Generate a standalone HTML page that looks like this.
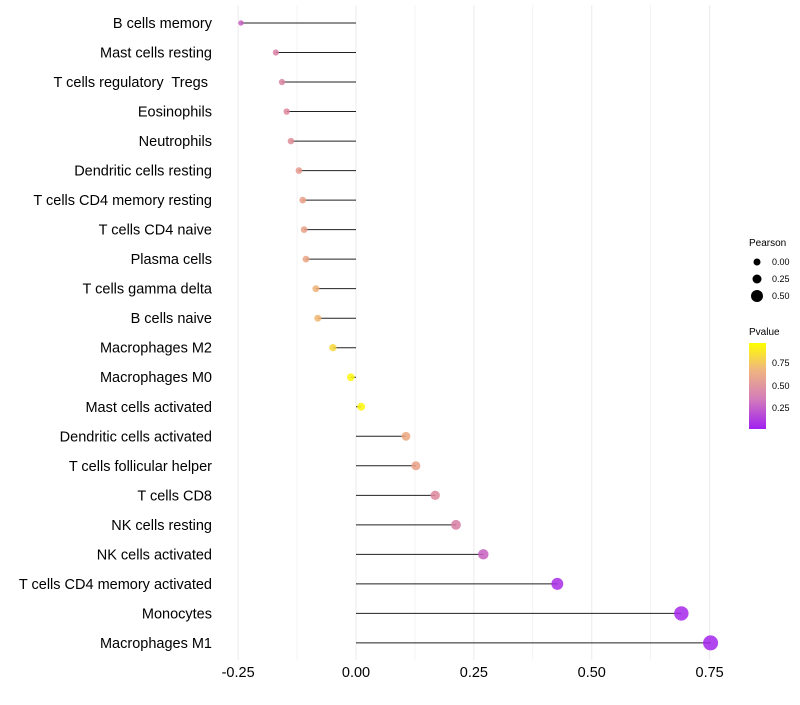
<!DOCTYPE html>
<html><head><meta charset="utf-8"><style>
body{margin:0;background:#fff;font-family:"Liberation Sans",sans-serif}
text{white-space:pre}
</style></head><body>
<svg id="chart" width="800" height="700" xmlns="http://www.w3.org/2000/svg">
<defs><linearGradient id="pg" x1="0" y1="1" x2="0" y2="0">
<stop offset="0" stop-color="#a020f0"/><stop offset="0.35" stop-color="#d47cba"/><stop offset="0.7" stop-color="#f0b87c"/><stop offset="1" stop-color="#ffff00"/></linearGradient></defs>
<g id="grid"></g><g id="marks"></g><g id="labels"></g>
<g font-size="9">
<text x="749" y="246" font-size="10">Pearson</text>
<circle cx="757" cy="262" r="3.5" fill="#000"/><text x="772" y="265">0.00</text>
<circle cx="757" cy="279" r="4.5" fill="#000"/><text x="772" y="282">0.25</text>
<circle cx="757" cy="296" r="6" fill="#000"/><text x="772" y="299">0.50</text>
<text x="749" y="335" font-size="10">Pvalue</text>
<rect x="749" y="343" width="17" height="86" fill="url(#pg)"/>
<text x="772" y="366">0.75</text><text x="772" y="389">0.50</text><text x="772" y="411">0.25</text>
</g>
</svg>
<script>
const categories=["B cells memory","Mast cells resting","T cells regulatory  Tregs ","Eosinophils","Neutrophils","Dendritic cells resting","T cells CD4 memory resting","T cells CD4 naive","Plasma cells","T cells gamma delta","B cells naive","Macrophages M2","Macrophages M0","Mast cells activated","Dendritic cells activated","T cells follicular helper","T cells CD8","NK cells resting","NK cells activated","T cells CD4 memory activated","Monocytes","Macrophages M1"];
const pearson=[-0.244,-0.17,-0.157,-0.147,-0.138,-0.121,-0.113,-0.11,-0.106,-0.085,-0.081,-0.049,-0.011,0.011,0.106,0.127,0.168,0.212,0.27,0.427,0.69,0.752];
const pvalue=[0.25,0.4,0.42,0.45,0.48,0.55,0.6,0.6,0.62,0.7,0.72,0.85,0.97,0.97,0.65,0.6,0.45,0.38,0.25,0.05,0.03,0.02];
const ticks=[-0.25,0,0.25,0.5,0.75];
const tickLabels=["-0.25","0.00","0.25","0.50","0.75"];
const NS="http://www.w3.org/2000/svg";
const x=v=>356+v*471.5;
const y=i=>23+i*29.52;
const rad=v=>Math.max(1.5,3.9+4.8*v);
function col(p){const st=[[0,[160,32,240]],[0.35,[214,120,170]],[0.7,[240,176,120]],[1,[255,255,0]]];
for(let k=1;k<st.length;k++){if(p<=st[k][0]){const t=(p-st[k-1][0])/(st[k][0]-st[k-1][0]);const a=st[k-1][1],b=st[k][1];return `rgb(${a.map((c,j)=>Math.round(c+(b[j]-c)*t)).join(",")})`;}}return "rgb(255,255,0)";}
function mk(t,a,p){const e=document.createElementNS(NS,t);for(const k in a)e.setAttribute(k,a[k]);p.appendChild(e);return e;}
const grid=document.getElementById('grid'),marks=document.getElementById('marks'),labels=document.getElementById('labels');
for(let v=-0.25;v<=0.751;v+=0.125){const l=mk('line',{x1:x(v),x2:x(v),y1:5,y2:660,stroke:'#ebebeb','stroke-width':Math.abs(v/0.25-Math.round(v/0.25))<0.01?1:0.6},grid);

}
ticks.forEach((v,i)=>{const t=mk('text',{x:x(v),y:677,'text-anchor':'middle','font-size':14.5,fill:'#000'},labels);t.textContent=tickLabels[i];

});
categories.forEach((c,i)=>{
const t=mk('text',{x:212,y:y(i)+5,'text-anchor':'end','font-size':14.5,fill:'#000'},labels);t.textContent=c;


const l=mk('line',{x1:x(0),x2:x(pearson[i]),y1:y(i),y2:y(i),stroke:'#222','stroke-width':1},marks);


const d=mk('circle',{cx:x(pearson[i]),cy:y(i),r:rad(pearson[i]),fill:col(pvalue[i]),'fill-opacity':0.85},marks);


});
</script>
</body></html>
